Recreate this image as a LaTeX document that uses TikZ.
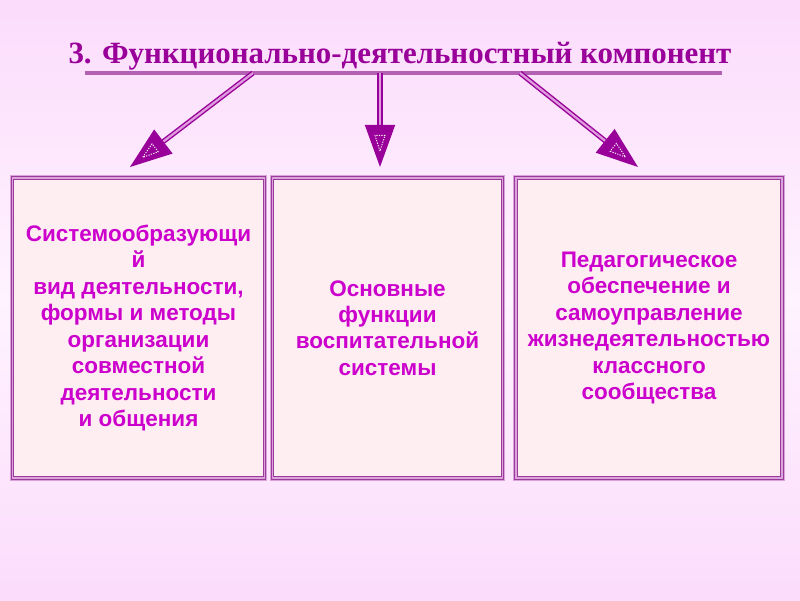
\documentclass[tikz,border=0pt]{standalone}
\usepackage{fontspec}
\newfontfamily\boxfont{Liberation Sans}
\newfontfamily\titlefont{Liberation Serif}
\usetikzlibrary{arrows.meta,calc}

\definecolor{bgpink}{HTML}{FBDCFB}
\definecolor{bglight}{HTML}{FFF3FF}
\definecolor{boxfill}{HTML}{FFEEF1}
\definecolor{framedark}{HTML}{9A3A9A}
\definecolor{framepale}{HTML}{DCA2DC}
\definecolor{titlecol}{HTML}{990099}
\definecolor{textcol}{HTML}{CC00CC}
\definecolor{rulecol}{HTML}{B460B4}
\definecolor{shaftpale}{HTML}{DE9CDE}

\tikzset{
  frame/.style={rectangle, fill=boxfill, draw=framedark, line width=0.6pt,
    double=framepale, double distance=1.2pt, minimum height=7.5cm, inner sep=0pt,
    preaction={draw=framepale, line width=4pt},
    align=center, text=textcol, font=\boxfont\bfseries\fontsize{16}{18.8}\selectfont},
  shaft/.style={draw=titlecol, line width=1pt, double=shaftpale, double distance=1.6pt,
    -{Triangle[length=1.05cm,width=0.75cm]}},
  innermark/.style={draw=white, line width=0.6pt, dash pattern=on 0.9pt off 0.9pt}
}

\begin{document}
\begin{tikzpicture}[x=0.025cm, y=-0.025cm]
	\fill[top color=bgpink, bottom color=bgpink, middle color=bglight] (0,0) rectangle (800,600);
	\useasboundingbox (0,0) rectangle (800,600);
	% title and its rule
	\node[anchor=base, text=titlecol, font=\titlefont\bfseries\fontsize{22}{26}\selectfont] (title) at (400,63) {3. Функционально-деятельностный компонент};
	\coordinate (ruleL) at (85,73);
	\coordinate (ruleR) at (722,73);
	\draw[rulecol, line width=2.2pt] (ruleL) -- (ruleR);
	% three boxes
	\node[frame, minimum width=6.3cm] (box1) at (138.5,328) {Системообразующи\\й\\вид деятельности,\\формы и методы\\организации\\совместной\\деятельности\\и общения};
	\node[frame, minimum width=5.75cm] (box2) at (387.5,328) {Основные\\функции\\воспитательной\\системы};
	\node[frame, minimum width=6.65cm] (box3) at (649,328) {Педагогическое\\обеспечение и\\самоуправление\\жизнедеятельностью\\классного\\сообщества};
	% arrows
	\coordinate (s1) at (253,73);
	\coordinate (t1) at (130,167);
	\coordinate (s2) at (380,73);
	\coordinate (t2) at (380,167);
	\coordinate (s3) at (520,73);
	\coordinate (t3) at (638,167);
	\foreach \s/\t in {s1/t1, s2/t2, s3/t3} {
		\draw[shaft] (\s) -- (\t);
		\draw[innermark] ($(\t)!0.4cm!(\s)$) -- ($(\t)!0.8cm!9:(\s)$) -- ($(\t)!0.8cm!-9:(\s)$) -- cycle;
	}
\end{tikzpicture}
\end{document}
